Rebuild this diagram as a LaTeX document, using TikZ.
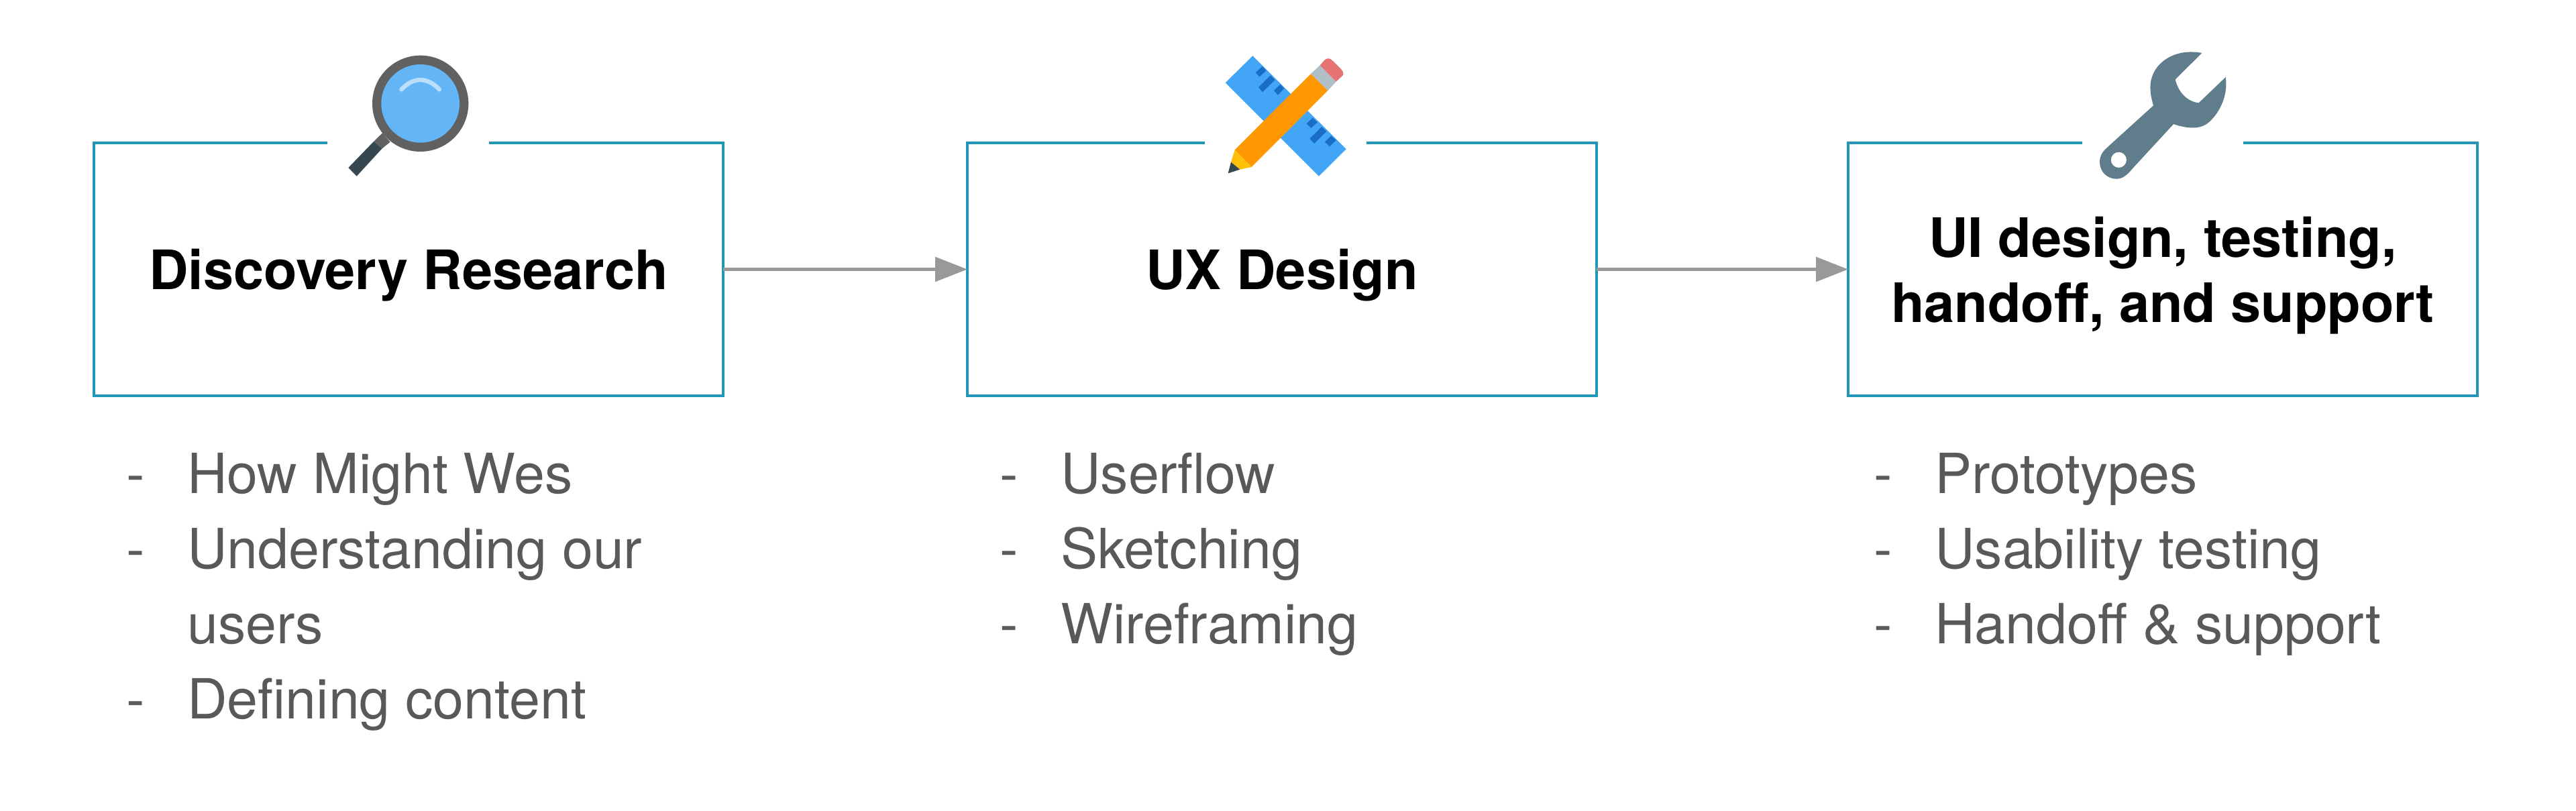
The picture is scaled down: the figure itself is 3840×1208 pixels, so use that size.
\documentclass[tikz,border=0pt]{standalone}
\usepackage{fontspec}
\setmainfont{TeX Gyre Heros}
\usetikzlibrary{arrows.meta}
\definecolor{boxblue}{HTML}{2196B8}
\definecolor{arrowgray}{HTML}{999999}
\definecolor{listgray}{HTML}{595959}
\definecolor{ringgray}{HTML}{616161}
\definecolor{glass}{HTML}{64B5F6}
\definecolor{shine}{HTML}{BBDEFB}
\definecolor{slate}{HTML}{37474F}
\definecolor{rulerblue}{HTML}{42A5F5}
\definecolor{rulermark}{HTML}{196CC8}
\definecolor{pencil}{HTML}{FF9800}
\definecolor{ferrule}{HTML}{B0BEC5}
\definecolor{eraser}{HTML}{E57373}
\definecolor{wood}{HTML}{FFC107}
\definecolor{wrench}{HTML}{607D8B}
\tikzset{
  x=1pt,y=-1pt,
  stagebox/.style={draw=boxblue,line width=4.5pt,minimum width=938pt,minimum height=377pt,inner sep=0pt,outer sep=0pt,anchor=north west},
  stagetitle/.style={align=center,inner sep=0pt,font=\fontsize{81}{97}\selectfont\bfseries,text=black},
  flow/.style={draw=arrowgray,line width=5.5pt,-{Triangle[length=48pt,width=36pt]}},
  listitem/.style={anchor=base west,inner sep=0pt,text=listgray,font=\fontsize{82.5}{97}\selectfont},
  icon/.style={shift={#1},x=0.33333pt,y=-0.33333pt},
}
\begin{document}
\begin{tikzpicture}
\useasboundingbox (0,0) rectangle (3840,1208);
\fill[white] (0,0) rectangle (3840,1208);
\node[stagebox] (b1) at (140,213) {};
\node[stagebox] (b2) at (1442,213) {};
\node[stagebox] (b3) at (2755,213) {};
\node[stagetitle] (h1) at ([yshift=-9pt]b1.center) {Discovery Research};
\node[stagetitle] (h2) at ([yshift=-9pt]b2.center) {UX Design};
\node[stagetitle] (h3) at ([yshift=-9pt]b3.center) {UI design, testing,\\handoff, and support};
\draw[flow] (b1.east) -- (b2.west);
\draw[flow] (b2.east) -- (b3.west);
\fill[white] (488,205) rectangle (729,221);
\fill[white] (1796,205) rectangle (2037,221);
\fill[white] (3104,205) rectangle (3344,221);
% magnifier
\begin{scope}[icon={(480,50)}]
\fill[ringgray] (232,482) -- (268,515) -- (305,485) -- (270,445) -- cycle;
\fill[ringgray] (440,313) circle[radius=215];
\fill[glass] (440,313) circle[radius=175];
\fill[slate] (118,600) -- (155,638) -- (268,515) -- (232,482) -- cycle;
\draw[shine,line width=6.5pt,line cap=round] (355,250) .. controls (410,193) and (470,193) .. (525,250);
\end{scope}
% ruler and pencil
\begin{scope}[icon={(1780,50)}]
\fill[rulerblue] (262,100) -- (680,517) -- (558,638) -- (140,220) -- cycle;
\fill[rulermark] (275,175) -- (305,147) -- (323,165) -- (293,193) -- cycle
 (288,240) -- (342,187) -- (362,207) -- (306,262) -- cycle
 (357,255) -- (385,228) -- (403,245) -- (375,275) -- cycle
 (503,403) -- (530,377) -- (552,397) -- (523,423) -- cycle
 (517,470) -- (570,417) -- (592,437) -- (537,492) -- cycle
 (585,485) -- (613,457) -- (635,477) -- (607,505) -- cycle;
\fill[pencil] (182,520) -- (522,180) -- (598,255) -- (257,597) -- cycle;
\fill[ferrule] (522,180) -- (563,142) -- (635,215) -- (598,255) -- cycle;
\fill[eraser] (563,142) -- (580,122) .. controls (592,108) and (608,108) .. (620,122) -- (658,160) .. controls (670,172) and (670,186) .. (660,192) -- (635,215) -- cycle;
\fill[wood] (182,520) -- (257,597) -- (205,608) -- (165,575) -- cycle;
\fill[slate] (165,575) -- (205,608) -- (152,625) -- cycle;
\end{scope}
% wrench
\begin{scope}[icon={(3090,50)}]
\fill[wrench,even odd rule]
 (577,87) -- (458,205) .. controls (470,260) and (510,305) .. (563,310) -- (683,195)
 .. controls (695,270) and (660,350) .. (610,395) .. controls (570,432) and (510,425) .. (450,405)
 -- (270,600) .. controls (245,630) and (225,650) .. (195,650) .. controls (155,650) and (120,620) .. (120,575) .. controls (120,545) and (135,525) .. (155,508)
 -- (360,322) .. controls (345,270) and (335,215) .. (370,160) .. controls (410,100) and (490,70) .. (577,87) -- cycle
 (240,565) arc[start angle=0,end angle=360,radius=35];
\end{scope}
% lists
\foreach \n/\x/\y/\t in {
 a/188/735/-, b/279/735/How Might Wes, c/188/847/-, d/279/847/Understanding our, e/279/959/users, f/188/1071/-, g/279/1071/Defining content,
 h/1490/735/-, i/1581/735/Userflow, j/1490/847/-, k/1581/847/Sketching, l/1490/959/-, m/1581/959/Wireframing,
 n/2793/735/-, o/2884/735/Prototypes, p/2793/847/-, q/2884/847/Usability testing, r/2793/959/-, s/2884/959/Handoff \& support}
 {\node[listitem] (t\n) at (\x,\y) {\t};}
\end{tikzpicture}
\end{document}
